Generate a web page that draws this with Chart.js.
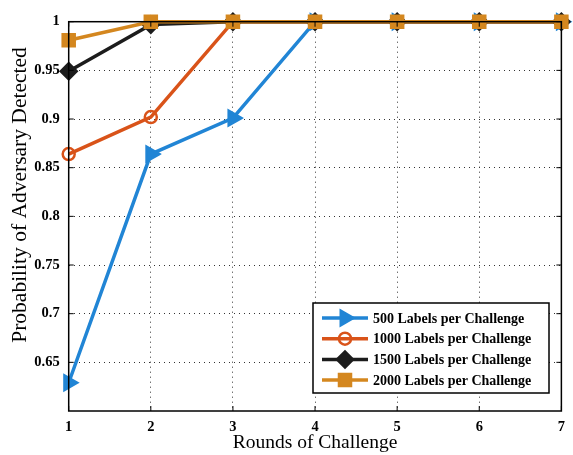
<!DOCTYPE html>
<html>
<head>
<meta charset="utf-8">
<script src="https://cdn.jsdelivr.net/npm/chart.js@4.4.1/dist/chart.umd.min.js"></script>
<style>
  html, body { margin: 0; padding: 0; background: #fff; }
  #wrap { width: 573px; height: 455px; }
</style>
</head>
<body>
<div id="wrap"><canvas id="chart" width="573" height="455"></canvas></div>
<script>
// Data
const rounds = [1, 2, 3, 4, 5, 6, 7];
const labels500 = [0.629, 0.864, 0.901, 1, 1, 1, 1];
const labels1000 = [0.864, 0.902, 1, 1, 1, 1, 1];
const labels1500 = [0.949, 0.997, 1, 1, 1, 1, 1];
const labels2000 = [0.981, 1, 1, 1, 1, 1, 1];
const yTicks = [0.65, 0.7, 0.75, 0.8, 0.85, 0.9, 0.95, 1];
const yTitle = 'Probability of Adversary Detected';
const xTitle = 'Rounds of Challenge';

const SERIF = '"Liberation Serif", "Times New Roman", serif';

const series = [
  { label: '500 Labels per Challenge', data: labels500, color: '#2185d5', style: 'triangle', rotation: 90, radius: 8.5, fill: true },
  { label: '1000 Labels per Challenge', data: labels1000, color: '#d95319', style: 'circle', rotation: 0, radius: 6, fill: false },
  { label: '1500 Labels per Challenge', data: labels1500, color: '#1c1c1c', style: 'rectRot', rotation: 0, radius: 8, fill: true },
  { label: '2000 Labels per Challenge', data: labels2000, color: '#d4871f', style: 'rect', rotation: 0, radius: 8.5, fill: true }
];

const datasets = series.map((s, i) => ({
  label: s.label,
  data: rounds.map((r, j) => ({ x: r, y: s.data[j] })),
  borderColor: s.color,
  backgroundColor: s.fill ? s.color : 'rgba(0,0,0,0)',
  borderWidth: 3.5,
  pointStyle: s.style,
  pointRotation: s.rotation,
  pointRadius: s.radius,
  pointBorderWidth: 2.5,
  pointBorderColor: s.color,
  pointBackgroundColor: s.fill ? s.color : 'rgba(0,0,0,0)',
  tension: 0,
  clip: false,
  order: series.length - i  // later series drawn on top
}));

// box, inner ticks, y title and legend
const boxAndLegend = {
  id: 'boxAndLegend',
  afterDraw(chart) {
    const { ctx, chartArea: a, scales } = chart;
    ctx.save();
    // y axis title
    ctx.fillStyle = '#000';
    ctx.font = '21.5px ' + SERIF;
    ctx.textAlign = 'center';
    ctx.textBaseline = 'middle';
    ctx.translate(20, 195);
    ctx.rotate(-Math.PI / 2);
    ctx.fillText(yTitle, 0, 0);
    ctx.restore();

    ctx.save();
    // inner tick marks
    ctx.strokeStyle = '#000';
    ctx.lineWidth = 1;
    ctx.beginPath();
    rounds.forEach(r => {
      const x = scales.x.getPixelForValue(r);
      ctx.moveTo(x, a.bottom); ctx.lineTo(x, a.bottom - 5);
      ctx.moveTo(x, a.top); ctx.lineTo(x, a.top + 5);
    });
    yTicks.forEach(v => {
      const y = scales.y.getPixelForValue(v);
      ctx.moveTo(a.left, y); ctx.lineTo(a.left + 5, y);
      ctx.moveTo(a.right, y); ctx.lineTo(a.right - 5, y);
    });
    ctx.stroke();
    // box
    ctx.lineWidth = 1.5;
    ctx.strokeRect(a.left, a.top, a.right - a.left, a.bottom - a.top);

    // legend
    const lx = 313, ly = 303, lw = 236, lh = 90;
    ctx.fillStyle = '#fff';
    ctx.fillRect(lx, ly, lw, lh);
    ctx.lineWidth = 1.5;
    ctx.strokeStyle = '#000';
    ctx.strokeRect(lx, ly, lw, lh);
    ctx.font = 'bold 14px ' + SERIF;
    ctx.textBaseline = 'middle';
    ctx.textAlign = 'left';
    chart.data.datasets.forEach((ds, i) => {
      const y = ly + 15 + i * 20.7;
      ctx.strokeStyle = ds.borderColor;
      ctx.lineWidth = 3.5;
      ctx.beginPath();
      ctx.moveTo(322, y); ctx.lineTo(368, y);
      ctx.stroke();
      ctx.fillStyle = ds.pointBackgroundColor;
      ctx.lineWidth = 2.5;
      Chart.helpers.drawPoint(ctx, {
        pointStyle: ds.pointStyle,
        rotation: ds.pointRotation,
        radius: ds.pointRadius,
        borderWidth: 2.5
      }, 345, y);
      ctx.fillStyle = '#000';
      ctx.fillText(ds.label, 373, y + 1);
    });
    ctx.restore();
  }
};

new Chart(document.getElementById('chart'), {
  type: 'line',
  data: { datasets },
  options: {
    responsive: false,
    animation: false,
    layout: { padding: { left: 0, right: 10, top: 21.7, bottom: 0 } },
    plugins: { legend: { display: false }, tooltip: { enabled: false } },
    scales: {
      x: {
        type: 'linear',
        min: 1, max: 7,
        afterBuildTicks: s => { s.ticks = rounds.map(v => ({ value: v })); },
        afterFit: s => { s.height = 44; },
        ticks: { color: '#000', font: { family: SERIF, size: 14.5, weight: 'bold' }, padding: 8 },
        grid: { color: '#333', lineWidth: 1, drawTicks: false },
        border: { display: false, dash: [1, 4] },
        title: { display: true, text: xTitle, color: '#000', font: { family: SERIF, size: 19.5 }, padding: { top: 0, bottom: 0 } }
      },
      y: {
        min: 0.6, max: 1,
        afterBuildTicks: s => { s.ticks = yTicks.map(v => ({ value: v })); },
        afterFit: s => { s.width = 68.7; },
        ticks: { color: '#000', font: { family: SERIF, size: 14.5, weight: 'bold' }, padding: 9,
          callback: v => String(Math.round(v * 100) / 100) },
        grid: { color: '#333', lineWidth: 1, drawTicks: false },
        border: { display: false, dash: [1, 4] }
      }
    }
  },
  plugins: [boxAndLegend]
});
</script>
</body>
</html>
